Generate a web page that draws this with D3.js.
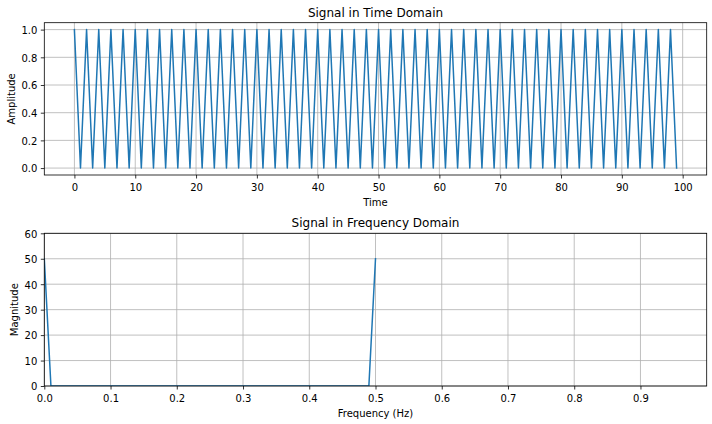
<!DOCTYPE html>
<html>
<head>
<meta charset="utf-8">
<script src="https://cdn.jsdelivr.net/npm/d3@7"></script>
<style>
  html, body { margin: 0; padding: 0; background: #fff; }
  svg { display: block; font-family: "DejaVu Sans", sans-serif; }
</style>
</head>
<body>
<svg id="chart" width="712" height="424"></svg>
<script>
// ---------- data ----------
const timeValues = [
  0,1,2,3,4,5,6,7,8,9,10,11,12,13,14,15,16,17,18,19,
  20,21,22,23,24,25,26,27,28,29,30,31,32,33,34,35,36,37,38,39,
  40,41,42,43,44,45,46,47,48,49,50,51,52,53,54,55,56,57,58,59,
  60,61,62,63,64,65,66,67,68,69,70,71,72,73,74,75,76,77,78,79,
  80,81,82,83,84,85,86,87,88,89,90,91,92,93,94,95,96,97,98,99
];
const amplitudeValues = [
  1,0,1,0,1,0,1,0,1,0,1,0,1,0,1,0,1,0,1,0,
  1,0,1,0,1,0,1,0,1,0,1,0,1,0,1,0,1,0,1,0,
  1,0,1,0,1,0,1,0,1,0,1,0,1,0,1,0,1,0,1,0,
  1,0,1,0,1,0,1,0,1,0,1,0,1,0,1,0,1,0,1,0,
  1,0,1,0,1,0,1,0,1,0,1,0,1,0,1,0,1,0,1,0
];
const frequencyValues = [
  0.00,0.01,0.02,0.03,0.04,0.05,0.06,0.07,0.08,0.09,
  0.10,0.11,0.12,0.13,0.14,0.15,0.16,0.17,0.18,0.19,
  0.20,0.21,0.22,0.23,0.24,0.25,0.26,0.27,0.28,0.29,
  0.30,0.31,0.32,0.33,0.34,0.35,0.36,0.37,0.38,0.39,
  0.40,0.41,0.42,0.43,0.44,0.45,0.46,0.47,0.48,0.49,
  0.50
];
const magnitudeValues = [
  50,0,0,0,0,0,0,0,0,0,
  0,0,0,0,0,0,0,0,0,0,
  0,0,0,0,0,0,0,0,0,0,
  0,0,0,0,0,0,0,0,0,0,
  0,0,0,0,0,0,0,0,0,0,
  50
];
const timeTicks = [0,10,20,30,40,50,60,70,80,90,100];
const amplitudeTicks = [0,0.2,0.4,0.6,0.8,1.0];
const freqTicks = [0,0.1,0.2,0.3,0.4,0.5,0.6,0.7,0.8,0.9];
const magnitudeTicks = [0,10,20,30,40,50,60];

// ---------- drawing ----------
const svg = d3.select("#chart");
const LINE = "#1f77b4";
const GRID = "#b0b0b0";

function panel(cfg) {
  const { left, right, top, bottom } = cfg;
  const x = d3.scaleLinear().domain(cfg.xDomain).range([left, right]);
  const y = d3.scaleLinear().domain(cfg.yDomain).range([bottom, top]);
  const g = svg.append("g");
  const clipId = "clip" + cfg.id;
  svg.append("clipPath").attr("id", clipId)
    .append("rect").attr("x", left).attr("y", top)
    .attr("width", right - left).attr("height", bottom - top);

  // grid
  const grid = g.append("g").attr("stroke", GRID).attr("stroke-width", 0.8);
  grid.selectAll("line.gx").data(cfg.xTicks).join("line")
    .attr("x1", d => x(d)).attr("x2", d => x(d))
    .attr("y1", top).attr("y2", bottom);
  grid.selectAll("line.gy").data(cfg.yTicks).join("line")
    .attr("x1", left).attr("x2", right)
    .attr("y1", d => y(d)).attr("y2", d => y(d));

  // line
  const pts = cfg.xs.map((v, i) => [v, cfg.ys[i]]);
  g.append("path").datum(pts)
    .attr("clip-path", `url(#${clipId})`)
    .attr("fill", "none").attr("stroke", LINE).attr("stroke-width", 1.5)
    .attr("stroke-linejoin", "round").attr("stroke-linecap", "square")
    .attr("d", d3.line().x(d => x(d[0])).y(d => y(d[1])));

  // axes
  const xAxis = d3.axisBottom(x).tickValues(cfg.xTicks).tickFormat(cfg.xFmt)
    .tickSizeInner(3.5).tickSizeOuter(0).tickPadding(3.5);
  const yAxis = d3.axisLeft(y).tickValues(cfg.yTicks).tickFormat(cfg.yFmt)
    .tickSizeInner(3.5).tickSizeOuter(0).tickPadding(3.5);
  const ax = g.append("g").attr("transform", `translate(0,${bottom})`).call(xAxis);
  const ay = g.append("g").attr("transform", `translate(${left},0)`).call(yAxis);
  [ax, ay].forEach(a => {
    a.select(".domain").remove();
    a.selectAll("line").attr("stroke", "#000").attr("stroke-width", 0.8);
    a.selectAll("text").attr("fill", "#000").style("font-size", "10px")
      .style("font-family", '"DejaVu Sans", sans-serif');
  });
  ax.selectAll("text").attr("dy", "0.93em");
  ay.selectAll("text").attr("dy", "0.38em");

  // spines
  g.append("rect").attr("x", left).attr("y", top)
    .attr("width", right - left).attr("height", bottom - top)
    .attr("fill", "none").attr("stroke", "#000").attr("stroke-width", 0.8);

  // title
  g.append("text").attr("x", (left + right) / 2).attr("y", top - 6)
    .attr("text-anchor", "middle").style("font-size", "12px").attr("fill", "#000")
    .text(cfg.title);
  // x label
  g.append("text").attr("x", (left + right) / 2).attr("y", bottom + 30.5)
    .attr("text-anchor", "middle").style("font-size", "10px").attr("fill", "#000")
    .text(cfg.xLabel);
  // y label
  g.append("text")
    .attr("transform", `translate(${cfg.yLabelX},${(top + bottom) / 2}) rotate(-90)`)
    .attr("text-anchor", "middle").style("font-size", "10px").attr("fill", "#000")
    .text(cfg.yLabel);
}

panel({
  id: 1, left: 44.3, right: 706.7, top: 22.7, bottom: 175,
  xDomain: [-4.95, 103.95], yDomain: [-0.05, 1.05],
  xs: timeValues, ys: amplitudeValues,
  xTicks: timeTicks, yTicks: amplitudeTicks,
  xFmt: d3.format("d"), yFmt: d3.format(".1f"),
  title: "Signal in Time Domain", xLabel: "Time", yLabel: "Amplitude", yLabelX: 15
});

panel({
  id: 2, left: 44.3, right: 706.7, top: 233.3, bottom: 386,
  xDomain: [0, 1.0], yDomain: [0, 60],
  xs: frequencyValues, ys: magnitudeValues,
  xTicks: freqTicks, yTicks: magnitudeTicks,
  xFmt: d3.format(".1f"), yFmt: d3.format("d"),
  title: "Signal in Frequency Domain", xLabel: "Frequency (Hz)", yLabel: "Magnitude", yLabelX: 18
});
</script>
</body>
</html>
